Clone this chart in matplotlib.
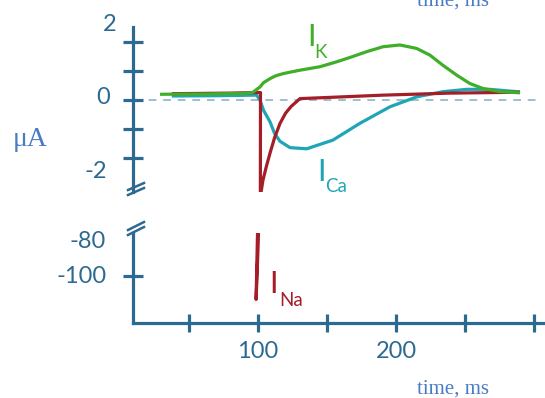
import matplotlib
matplotlib.use("Agg")
import matplotlib.pyplot as plt
from matplotlib.lines import Line2D
from matplotlib.transforms import blended_transform_factory

# ---------------- data ----------------
k_t = [29, 60, 90, 96, 101.4, 104, 108.7, 113, 118.1, 124, 130.4, 144.9, 157,
       166.7, 178.8, 190.6, 202.9, 215, 224.6, 234, 244, 253.6, 263, 275.4, 289.9]
k_v = [0.20, 0.21, 0.23, 0.26, 0.45, 0.60, 0.74, 0.84, 0.91, 0.97, 1.03, 1.15,
       1.32, 1.47, 1.67, 1.84, 1.90, 1.78, 1.55, 1.20, 0.86, 0.57, 0.40, 0.29, 0.25]

ca_t = [37.5, 70, 99, 101.4, 104, 108.7, 112, 115.9, 123.2, 135.3, 154.3, 173.9,
        195.7, 215, 234, 251.2, 268.1, 289.9]
ca_v = [0.14, 0.15, 0.17, 0.0, -0.35, -0.75, -1.15, -1.42, -1.64, -1.68, -1.38,
        -0.80, -0.23, 0.11, 0.29, 0.37, 0.37, 0.28]

na_t = [37.5, 80, 100.5, 101.8, 98.6, 99.3, 100.2, 101.8, 103.6, 106, 108.7,
        112, 116, 120, 124, 130.4, 190.6, 239, 289.9]
na_v = [0.22, 0.24, 0.26, 0.26, -113, -100, -80, -3.3, -2.76, -2.3, -1.83,
        -1.3, -0.80, -0.45, -0.22, 0.05, 0.17, 0.24, 0.27]

top_ticks = [-2, -1, 0, 1, 2]
bot_ticks = [-100]
x_ticks = [50, 100, 150, 200, 250, 300]
x_labels = {100: "100", 200: "200"}
y_labels = [("2", 2.6), ("0", 0.08), ("-2", -2.45)]
y_labels_low = [("-80", -81), ("-100", -100)]

# ---------------- style ----------------
W, H = 545, 398
AX = "#2d6a91"
TXT = "#2d6a91"
GREEN = "#3fae29"
TEAL = "#1fa6b6"
RED = "#a51d27"
UNIT = "#4a7cc4"
LW = 2.3

fig = plt.figure(figsize=(W / 100, H / 100), dpi=100)
fig.patch.set_facecolor("white")

def fx(px):
    return px / W

def fy(py):
    return 1 - py / H

x0, x1 = 133, 545
xlim = (9.4, 308)

ax_top = fig.add_axes([fx(x0), fy(192), (x1 - x0) / W, (192 - 27) / H])
ax_bot = fig.add_axes([fx(x0), fy(323), (x1 - x0) / W, (323 - 233) / H])

ax_top.set_ylim(-3.17, 2.52)
ax_bot.set_ylim(-126.1, -76.1)

for ax in (ax_top, ax_bot):
    ax.set_xlim(*xlim)
    ax.patch.set_alpha(0)
    for s in ("top", "right"):
        ax.spines[s].set_visible(False)
    ax.spines["left"].set_color(AX)
    ax.spines["left"].set_linewidth(LW)
    ax.spines["bottom"].set_color(AX)
    ax.spines["bottom"].set_linewidth(LW)
    ax.plot([10, 304], [0, 0], color="#9cc0d0", lw=1.4,
            linestyle=(0, (4, 3.5)), zorder=1)
    ax.plot(ca_t, ca_v, color=TEAL, lw=LW, zorder=3, solid_capstyle="butt")
    ax.plot(na_t, na_v, color=RED, lw=LW, zorder=4, solid_capstyle="butt")
    ax.plot(k_t, k_v, color=GREEN, lw=LW, zorder=5, solid_capstyle="butt")

ax_top.spines["bottom"].set_visible(False)
ax_top.set_xticks([])
ax_top.set_yticks(top_ticks)
ax_top.set_yticklabels([])
ax_top.tick_params(axis="y", direction="inout", length=14, width=LW, color=AX)

ax_bot.set_yticks(bot_ticks)
ax_bot.set_yticklabels([])
ax_bot.tick_params(axis="y", direction="inout", length=14, width=LW, color=AX)
ax_bot.set_xticks(x_ticks)
ax_bot.set_xticklabels([])
ax_bot.tick_params(axis="x", direction="inout", length=13, width=LW, color=AX)

# break marks
for (ya, yb) in [(190, 183), (195, 188), (230, 222), (235, 227)]:
    fig.add_artist(Line2D([fx(128), fx(144)], [fy(ya), fy(yb)],
                          transform=fig.transFigure, color=AX, lw=1.8))

NUM = dict(family="Lato", fontsize=17, color=TXT)

# y tick labels
blend_top = blended_transform_factory(fig.transFigure, ax_top.transData)
blend_bot = blended_transform_factory(fig.transFigure, ax_bot.transData)
label_x = {"2": 116, "0": 110, "-2": 107, "-80": 106, "-100": 107}
for lab, v in y_labels:
    fig.text(fx(label_x[lab]), v, lab, transform=blend_top, ha="right",
             va="center", **NUM)
for lab, v in y_labels_low:
    fig.text(fx(label_x[lab]), v, lab, transform=blend_bot, ha="right",
             va="center", **NUM)

# x tick labels
for v, lab in x_labels.items():
    ax_bot.text(v, -0.32, lab, transform=ax_bot.get_xaxis_transform(),
                ha="center", va="center", clip_on=False, **NUM)

# current labels
def cur_label(px, py, main, sub, sx, sy, color):
    fig.text(fx(px), fy(py), main, family="Lato", fontsize=22, color=color,
             ha="center", va="center")
    fig.text(fx(sx), fy(sy), sub, family="Lato", fontsize=13.5, color=color,
             ha="left", va="center")

cur_label(311, 37, "I", "K", 314, 53, GREEN)
cur_label(321, 172, "I", "Ca", 325, 187, TEAL)
cur_label(274, 284, "I", "Na", 279, 300, RED)

# unit labels
fig.text(fx(30), fy(139), "\u03bcA", family="Liberation Serif", fontsize=20,
         color=UNIT, ha="center", va="center")
fig.text(fx(453), fy(394), "time, ms", family="Liberation Serif", fontsize=15,
         color=UNIT, ha="center", va="baseline")
fig.text(fx(453), fy(6), "time, ms", family="Liberation Serif", fontsize=15,
         color=UNIT, ha="center", va="baseline")

fig.savefig("out.png", dpi=100, facecolor="white")
